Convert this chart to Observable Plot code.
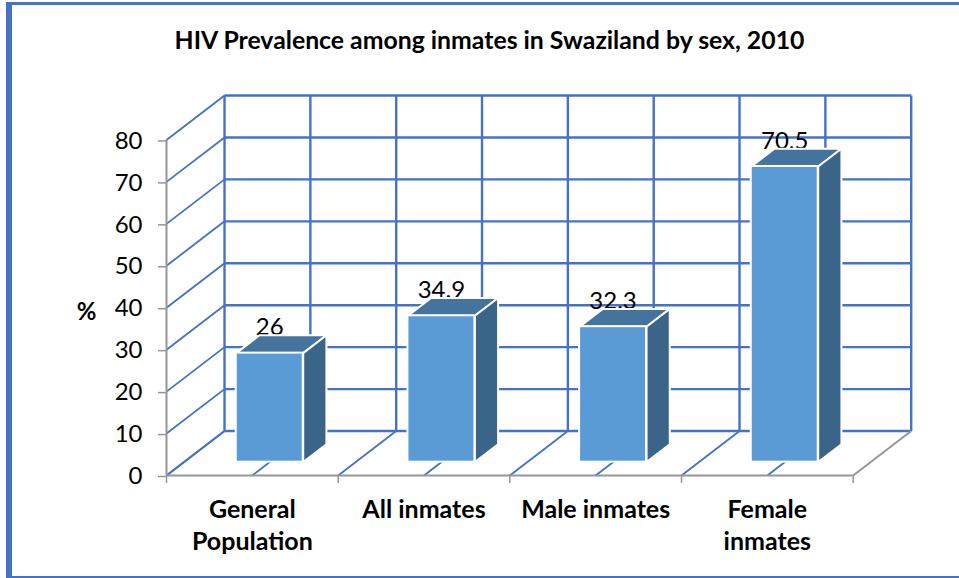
<!DOCTYPE html>
<html>
<head>
<meta charset="utf-8">
<script src="https://cdn.jsdelivr.net/npm/d3@7"></script>
<script src="https://cdn.jsdelivr.net/npm/@observablehq/plot@0.6"></script>
<style>
  html, body { margin: 0; padding: 0; background: #fff; overflow: hidden; }
  #page { position: relative; width: 959px; height: 578px; font-family: Lato, sans-serif; color: #000; }
  #frame { position: absolute; left: 6px; top: 2px; right: -10px; bottom: 0; box-sizing: border-box;
           border-top: 3px solid #4472C4; border-left: 6px solid #4472C4; border-bottom: 2px solid #4472C4; pointer-events: none; }
  #title { height: 62px; line-height: 80px; text-align: center; font-weight: 700; font-size: 24.8px; padding-left: 20px; white-space: nowrap; }
  svg { display: block; font-family: Lato, sans-serif; }
</style>
</head>
<body>
<div id="page">
  <div id="frame"></div>
  <div id="title">HIV Prevalence among inmates in Swaziland by sex, 2010</div>
  <div id="chart"></div>
</div>
<script>
// Data
const categories = ["General Population", "All inmates", "Male inmates", "Female inmates"];
const tickLabels = ["General\nPopulation", "All inmates", "Male inmates", "Female\ninmates"];
const values = [26, 34.9, 32.3, 70.5];
const valueLabels = ["26", "34.9", "32.3", "70.5"];
const yTicks = [0, 10, 20, 30, 40, 50, 60, 70, 80];
const halfSteps = [0, 0.5, 1, 1.5, 2, 2.5, 3, 3.5, 4];

// Oblique projection, in data units, of one full step of depth
const depthX = 0.338, depthY = 10.6;
const barFront = 0.3, barBack = 0.7, barHalfWidth = 0.195;
const gridColor = "#4472C4", axisColor = "#969696";
const px = (x, d) => x + d * depthX;
const py = (y, d) => y + d * depthY;

const bars = values.map((v, i) => ({
  i, v, label: valueLabels[i], name: categories[i],
  l: i + 0.5 - barHalfWidth, r: i + 0.5 + barHalfWidth
}));
const seg = (x1, y1, d1, x2, y2, d2) => ({x1: px(x1, d1), y1: py(y1, d1), x2: px(x2, d2), y2: py(y2, d2)});

const wallH = yTicks.map(t => seg(0, t, 1, 4, t, 1));
const wallV = halfSteps.map(x => seg(x, 0, 1, x, 80, 1));
const sideD = yTicks.map(t => seg(0, t, 0, 0, t, 1));
const floorD = halfSteps.slice(0, -1).map(x => seg(x, 0, 0, x, 0, 1));

const topFace = bars.flatMap(b => [[b.l, barFront], [b.r, barFront], [b.r, barBack], [b.l, barBack], [b.l, barFront]]
  .map(([x, d]) => ({k: b.i, x: px(x, d), y: py(b.v, d)})));
const sideFace = bars.flatMap(b => [[0, barFront], [b.v, barFront], [b.v, barBack], [0, barBack], [0, barFront]]
  .map(([v, d]) => ({k: b.i, x: px(b.r, d), y: py(v, d)})));
const frontFace = bars.map(b => ({x1: px(b.l, barFront), x2: px(b.r, barFront), y1: py(0, barFront), y2: py(b.v, barFront)}));

const link = (data, stroke, strokeWidth) => Plot.link(data, {x1: "x1", y1: "y1", x2: "x2", y2: "y2", stroke, strokeWidth});

const chart = Plot.plot({
  width: 959,
  height: 516,
  marginTop: 33,
  marginBottom: 103,
  marginLeft: 166,
  marginRight: 48.3,
  x: {type: "linear", domain: [0, 4 + depthX]},
  y: {type: "linear", domain: [0, 80 + depthY]},
  marks: [
    link(wallH, gridColor, 2.4),
    link(wallV, gridColor, 2.4),
    link(sideD, gridColor, 1.8),
    link(floorD, gridColor, 1.8),
    // floor edge on the right is part of the axis frame
    link([seg(4, 0, 0, 4, 0, 1)], axisColor, 2),
    Plot.text(bars, {
      x: b => px(b.i + 0.5, barFront), y: b => py(b.v, barBack), text: "label",
      fontSize: 24, lineAnchor: "bottom", dy: 0, fill: "#000"
    }),
    Plot.line(topFace, {x: "x", y: "y", z: "k", fill: "#44739E", stroke: "#fff", strokeWidth: 2, strokeLinejoin: "round", curve: "linear"}),
    Plot.line(sideFace, {x: "x", y: "y", z: "k", fill: "#3A6488", stroke: "#fff", strokeWidth: 2, strokeLinejoin: "round", curve: "linear"}),
    Plot.rect(frontFace, {x1: "x1", x2: "x2", y1: "y1", y2: "y2", fill: "#5B9BD5", stroke: "#fff", strokeWidth: 2}),
    Plot.ruleX([0], {y1: 0, y2: 80, stroke: axisColor, strokeWidth: 2}),
    Plot.ruleY([0], {x1: 0, x2: 4, stroke: axisColor, strokeWidth: 2}),
    Plot.axisY(yTicks, {tickSize: 8, tickPadding: 16, stroke: axisColor, strokeWidth: 1.5, fill: "#000", fontSize: 24, dy: 1, label: null}),
    Plot.axisX([0, 1, 2, 3, 4], {tickSize: 8, stroke: axisColor, strokeWidth: 1.5, tickFormat: () => "", label: null}),
    Plot.axisX([0.5, 1.5, 2.5, 3.5], {
      tickSize: 0, tickPadding: 20, fill: "#000", fontSize: 25, fontWeight: 700, lineHeight: 1.28,
      tickFormat: x => tickLabels[Math.floor(x)], label: null
    }),
    Plot.text(["%"], {x: 0, y: 39, dx: -80, fontSize: 24, fontWeight: 700, fill: "#000"})
  ]
});
document.getElementById("chart").appendChild(chart);
</script>
</body>
</html>
